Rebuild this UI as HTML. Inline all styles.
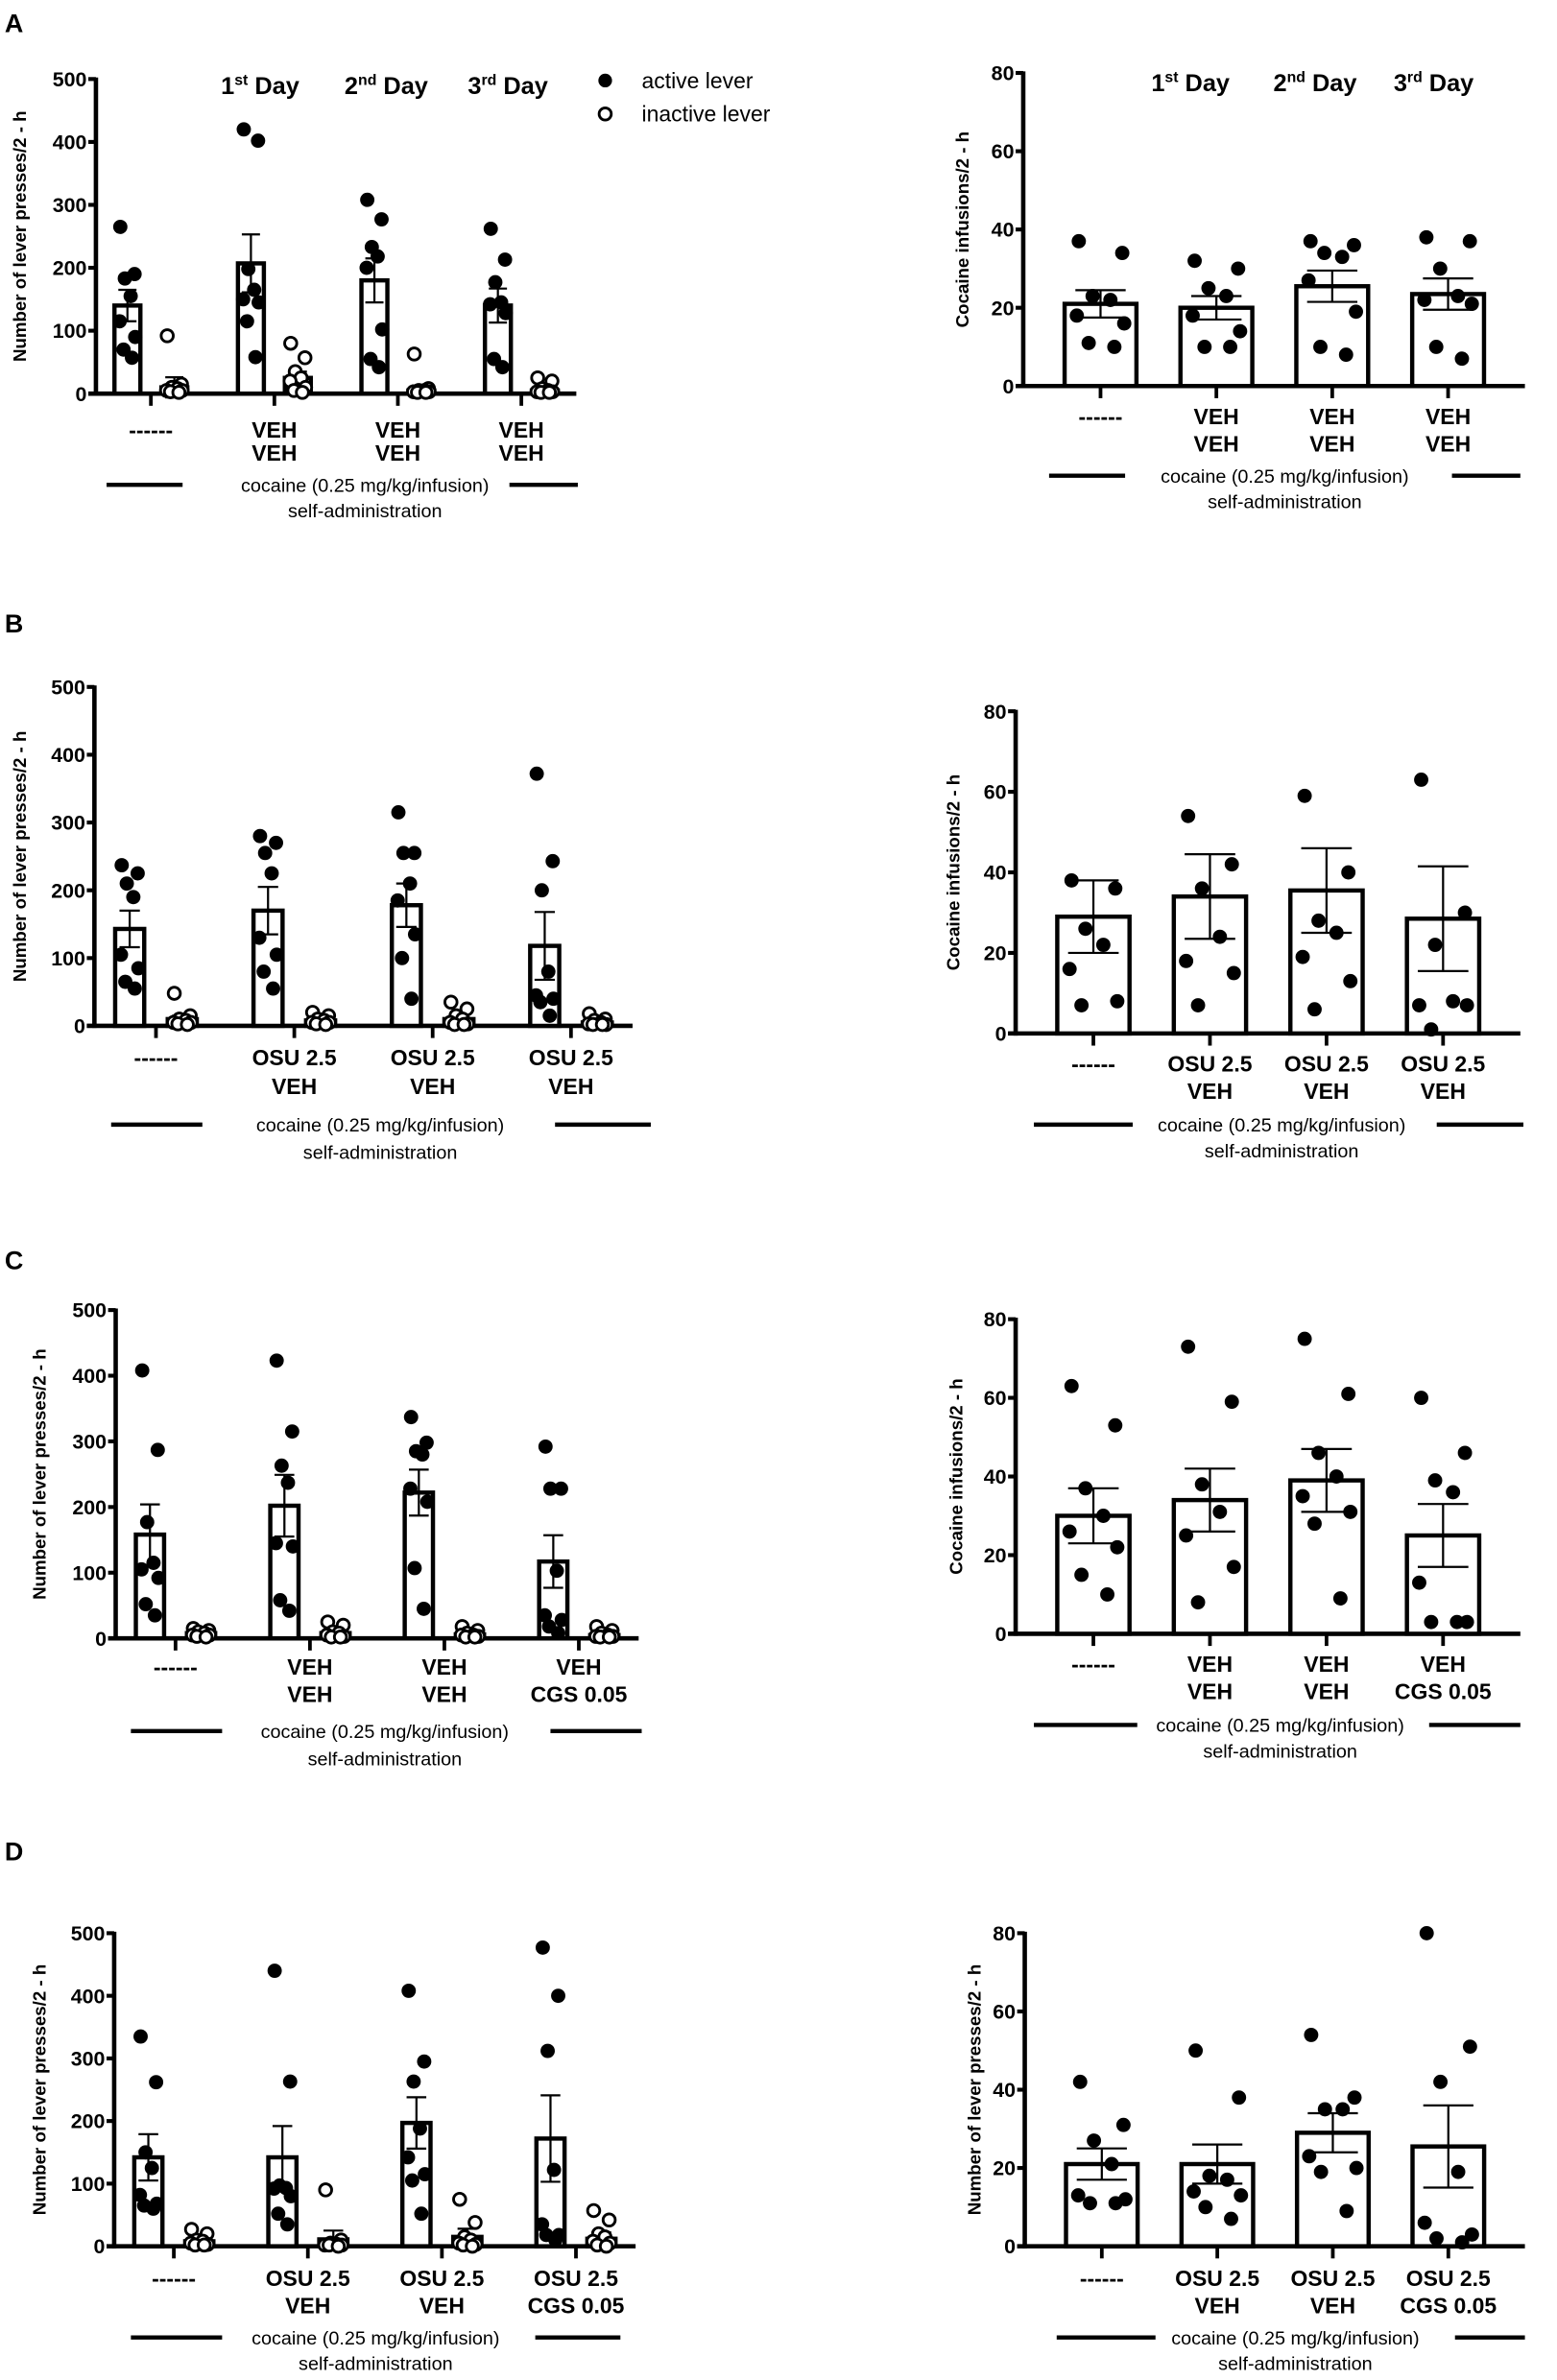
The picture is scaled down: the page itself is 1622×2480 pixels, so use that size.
<!DOCTYPE html>
<html><head><meta charset="utf-8">
<style>
html,body{margin:0;padding:0;background:#fff;}
svg{display:block;}
text{font-family:"Liberation Sans Narrow","Liberation Sans",sans-serif;fill:#000;}
</style></head>
<body>
<svg id="fig" xmlns="http://www.w3.org/2000/svg" width="1622" height="2480" viewBox="0 0 1024 1566"></svg>
<script>
// ---------- DATA ----------
// Panel A left (lever presses)
const aL_active = [[265,190,183,155,115,90,70,57],[420,402,198,165,150,145,115,58],[308,277,233,218,200,102,55,42],[262,213,177,145,142,128,55,42]];
const aL_inactive = [[92,15,10,8,5,5,3,2],[80,57,35,25,20,10,5,2],[63,8,5,5,3,3,2,2],[25,20,8,5,3,3,2,2]];
const aL_actMean = [140,207,180,140];
const aL_actSem = [25,46,35,27];
const aL_inMean = [10,25,5,5];
const aL_inSem = [16,10,8,6];
// Panel A right (infusions)
const aR_values = [[37,34,23,22,18,16,11,10],[32,30,25,23,18,14,10,10],[37,36,34,33,27,19,10,8],[38,37,30,23,22,21,10,7]];
const aR_mean = [21,20,25.5,23.5];
const aR_sem = [3.5,3,4,4];
// Panel B left
const bL_active = [[237,225,210,190,105,85,65,55],[280,270,255,225,130,105,80,55],[315,255,255,210,185,135,100,40],[372,243,200,80,45,40,35,15]];
const bL_inactive = [[48,15,10,8,5,5,3,2],[20,15,10,8,5,5,3,2],[35,25,15,10,5,3,2,2],[18,10,8,5,3,2,2,2]];
const bL_actMean = [143,170,178,118];
const bL_actSem = [27,35,32,50];
const bL_inMean = [10,8,10,5];
const bL_inSem = [5,3,4,3];
// Panel B right
const bR_values = [[38,36,26,22,16,8,7],[54,42,36,24,18,15,7],[59,40,28,25,19,13,6],[63,30,22,8,7,7,1]];
const bR_mean = [29,34,35.5,28.5];
const bR_sem = [9,10.5,10.5,13];
// Panel C left
const cL_active = [[408,287,177,115,105,92,52,35],[423,315,263,237,145,140,58,42],[337,298,285,280,228,208,107,45],[292,228,228,103,35,28,18,8]];
const cL_inactive = [[15,12,10,8,5,5,3,2],[25,20,10,8,5,3,2,2],[18,12,8,5,5,3,2,2],[18,12,8,5,3,3,2,2]];
const cL_actMean = [158,202,222,117];
const cL_actSem = [46,47,35,40];
const cL_inMean = [8,8,6,5];
const cL_inSem = [2,3,2,2];
// Panel C right
const cR_values = [[63,53,37,30,26,22,15,10],[73,59,38,31,25,17,8],[75,61,46,40,35,31,28,9],[60,46,39,36,13,3,3,3]];
const cR_mean = [30,34,39,25];
const cR_sem = [7,8,8,8];
// Panel D left
const dL_active = [[335,262,150,125,82,68,65,60],[440,263,97,93,92,80,52,35],[408,295,263,188,142,115,105,52],[477,400,312,122,35,18,18,10]];
const dL_inactive = [[27,20,10,8,5,3,2,2],[90,10,5,3,2,2,2,0],[75,38,15,10,5,3,2,0],[57,42,20,15,8,5,2,0]];
const dL_actMean = [142,142,197,172];
const dL_actSem = [37,50,41,69];
const dL_inMean = [8,11,15,12];
const dL_inSem = [3,14,13,10];
// Panel D right
const dR_values = [[42,31,27,21,13,12,11,11],[50,38,18,17,14,13,10,7],[54,38,35,35,23,20,19,9],[80,51,42,19,6,3,2,1]];
const dR_mean = [21,21,29,25.5];
const dR_sem = [4,5,5,10.5];
// Labels
const leftTicks = [0,100,200,300,400,500];
const rightTicks = [0,20,40,60,80];
const catA = [["------",""],["VEH","VEH"],["VEH","VEH"],["VEH","VEH"]];
const catB = [["------",""],["OSU 2.5","VEH"],["OSU 2.5","VEH"],["OSU 2.5","VEH"]];
const catC = [["------",""],["VEH","VEH"],["VEH","VEH"],["VEH","CGS 0.05"]];
const catD = [["------",""],["OSU 2.5","VEH"],["OSU 2.5","VEH"],["OSU 2.5","CGS 0.05"]];
const dayNums = ["1","2","3"];
const daySups = ["st","nd","rd"];

// ---------- DRAW ----------
const NS = "http://www.w3.org/2000/svg";
const svg = document.getElementById('fig');
function mk(tag, attrs, parent, txt){
  const e = document.createElementNS(NS, tag);
  for (const k in attrs) e.setAttribute(k, attrs[k]);
  if (txt !== undefined) e.textContent = txt;
  (parent||svg).appendChild(e);
  return e;
}
const jit = [-0.55,0.55,-0.2,0.25,-0.6,0.6,-0.3,0.35];

function axisFrame(g, c, ticks, ymax, title, cats){
  const y = v => c.yZero - (v/ymax)*(c.yZero-c.yTop);
  let e = mk('line',{x1:c.x0,y1:c.yTop-1,x2:c.x0,y2:c.yZero+1.4,stroke:'#000','stroke-width':2.9},g);
  
  
  e = mk('line',{x1:c.x0-5,y1:c.yZero,x2:c.xEnd,y2:c.yZero,stroke:'#000','stroke-width':2.9},g);
  
  
  ticks.forEach(t=>{
    const tl = mk('line',{x1:c.x0-5,y1:y(t),x2:c.x0,y2:y(t),stroke:'#000','stroke-width':2.6},g);
    
    
    const tx = mk('text',{x:c.x0-6,y:y(t)+4.8,'text-anchor':'end','font-size':13.5,'font-weight':'bold'},g,String(t));
    
    
  });
  const tt = mk('text',{x:0,y:0,'text-anchor':'middle','font-size':11.8,'font-weight':'bold',transform:`translate(${c.titleX},${(c.yTop+c.yZero)/2}) rotate(-90)`},g,title);
  
  
  cats.forEach((cl,i)=>{
    const tx = c.tick(i);
    const tk = mk('line',{x1:tx,y1:c.yZero,x2:tx,y2:c.yZero+8,stroke:'#000','stroke-width':2.4},g);
    
    
    const l1 = mk('text',{x:tx,y:c.lab1+5,'text-anchor':'middle','font-size':14.5,'font-weight':'bold'},g,cl[0]);
    
    
    if (cl[1]) {
      const l2 = mk('text',{x:tx,y:c.lab2+5,'text-anchor':'middle','font-size':14.5,'font-weight':'bold'},g,cl[1]);
      
      
    }
  });
  const b = c.bl;
  let ln = mk('line',{x1:b[0],y1:c.lineY,x2:b[1],y2:c.lineY,stroke:'#000','stroke-width':2.8},g);
  
  
  ln = mk('line',{x1:b[2],y1:c.lineY,x2:b[3],y2:c.lineY,stroke:'#000','stroke-width':2.8},g);
  
  
  let t1 = mk('text',{x:b[4],y:c.lineY+4.5,'text-anchor':'middle','font-size':12.5},g,'cocaine (0.25 mg/kg/infusion)');
  
  
  t1 = mk('text',{x:b[4],y:c.selfY+4.5,'text-anchor':'middle','font-size':12.5},g,'self-administration');
  
  
  return y;
}

function barWithDots(g, y, cx, bw, vals, mean, sem, open, name, spread){
  const bar = mk('rect',{x:cx-bw/2,y:y(mean),width:bw,height:y(0)-y(mean),fill:'#fff',stroke:'#000','stroke-width':2.8},g);
  
  
  const ew = bw*0.35;
  const err = mk('path',{d:`M${cx},${y(mean-sem)}V${y(mean+sem)}M${cx-ew},${y(mean+sem)}H${cx+ew}M${cx-ew},${y(mean-sem)}H${cx+ew}`,stroke:'#000','stroke-width':1.4,fill:'none'},g);
  
  
  vals.forEach((v,k)=>{
    const px = cx + jit[k%jit.length]*bw*spread;
    const d = mk('circle',{cx:px,cy:y(v),r:open?4.0:4.7,fill:open?'#fff':'#000',stroke:'#000','stroke-width':open?1.8:0},g);
    
    
  });
}

function leftPanel(c, act, inact, aM, aS, iM, iS, cats, letter, name){
  const g = mk('g',{});
  
  
  const s = (c.xEnd-c.x0)/3.89;
  c.tick = i => c.x0 + 0.445*s + i*s;
  const lt = mk('text',{x:c.lx,y:c.ly,'font-size':17,'font-weight':'bold'},g,letter);
  
  
  const y = axisFrame(g, c, leftTicks, 500, 'Number of lever presses/2 - h', cats);
  const bw = 0.21*s;
  act.forEach((vals,i)=>{
    barWithDots(g, y, c.tick(i)-0.19*s, bw, vals, aM[i], aS[i], false, 'active-lever', 0.5);
    barWithDots(g, y, c.tick(i)+0.19*s, bw, inact[i], iM[i], iS[i], true, 'inactive-lever', 0.5);
  });
  return c;
}
function rightPanel(c, vals, m, se, cats, ymax, title, name){
  const g = mk('g',{});
  
  
  const s = (c.xEnd-c.x0)/4.33;
  c.tick = i => c.x0 + 0.667*s + i*s;
  const y = axisFrame(g, c, rightTicks, ymax, title, cats);
  vals.forEach((v,i)=>{
    barWithDots(g, y, c.tick(i), 0.62*s, v, m[i], se[i], false, 'infusion', 0.55);
  });
  return c;
}
function dayLabels(xs, yy, name){
  xs.forEach((x,i)=>{
    const t = mk('text',{x:x,y:yy,'text-anchor':'middle','font-size':16,'font-weight':'bold'});
    
    
    const a = document.createElementNS(NS,'tspan'); a.textContent = dayNums[i]; t.appendChild(a);
    const b = document.createElementNS(NS,'tspan'); b.textContent = daySups[i]; b.setAttribute('font-size','10'); b.setAttribute('dy','-6'); t.appendChild(b);
    const d = document.createElementNS(NS,'tspan'); d.textContent = ' Day'; d.setAttribute('dy','6'); t.appendChild(d);
  });
}

// A
leftPanel({x0:63,xEnd:379,yTop:52,yZero:259,lab1:283,lab2:298,lineY:319,selfY:336,bl:[70,120,335,380,240],titleX:17,lx:3,ly:21},
  aL_active,aL_inactive,aL_actMean,aL_actSem,aL_inMean,aL_inSem,catA,'A','panel-a-lever-presses');
rightPanel({x0:673,xEnd:1003,yTop:48,yZero:254,lab1:274,lab2:292,lineY:313,selfY:330,bl:[690,740,955,1000,845],titleX:637},
  aR_values,aR_mean,aR_sem,catA,80,'Cocaine infusions/2 - h','panel-a-infusions');
dayLabels([171,254,334],62,'day-label');
dayLabels([783,865,943],60,'day-label');
let lg = mk('circle',{cx:398,cy:53,r:4.5,fill:'#000'});  
lg = mk('text',{x:422,y:58,'font-size':14.5},undefined,'active lever');  
lg = mk('circle',{cx:398,cy:75,r:4.0,fill:'#fff',stroke:'#000','stroke-width':1.8});  
lg = mk('text',{x:422,y:80,'font-size':14.5},undefined,'inactive lever');  

// B
leftPanel({x0:62,xEnd:416,yTop:452,yZero:675,lab1:696,lab2:715,lineY:740,selfY:758,bl:[73,133,365,428,250],titleX:17,lx:3,ly:416},
  bL_active,bL_inactive,bL_actMean,bL_actSem,bL_inMean,bL_inSem,catB,'B','panel-b-lever-presses');
rightPanel({x0:668,xEnd:1000,yTop:468,yZero:680,lab1:700,lab2:718,lineY:740,selfY:757,bl:[680,745,945,1002,843],titleX:631},
  bR_values,bR_mean,bR_sem,catB,80,'Cocaine infusions/2 - h','panel-b-infusions');

// C
leftPanel({x0:76,xEnd:420,yTop:862,yZero:1078,lab1:1097,lab2:1115,lineY:1139,selfY:1157,bl:[86,146,362,422,253],titleX:30,lx:3,ly:835},
  cL_active,cL_inactive,cL_actMean,cL_actSem,cL_inMean,cL_inSem,catC,'C','panel-c-lever-presses');
rightPanel({x0:668,xEnd:1000,yTop:868,yZero:1075,lab1:1095,lab2:1113,lineY:1135,selfY:1152,bl:[680,748,940,1000,842],titleX:633},
  cR_values,cR_mean,cR_sem,catC,80,'Cocaine infusions/2 - h','panel-c-infusions');

// D
leftPanel({x0:75,xEnd:418,yTop:1272,yZero:1478,lab1:1499,lab2:1517,lineY:1538,selfY:1555,bl:[86,146,352,408,247],titleX:30,lx:3,ly:1224},
  dL_active,dL_inactive,dL_actMean,dL_actSem,dL_inMean,dL_inSem,catD,'D','panel-d-lever-presses');
rightPanel({x0:674,xEnd:1003,yTop:1272,yZero:1478,lab1:1499,lab2:1517,lineY:1538,selfY:1555,bl:[695,760,957,1003,852],titleX:645},
  dR_values,dR_mean,dR_sem,catD,80,'Number of lever presses/2 - h','panel-d-right');
</script>
</body></html>
